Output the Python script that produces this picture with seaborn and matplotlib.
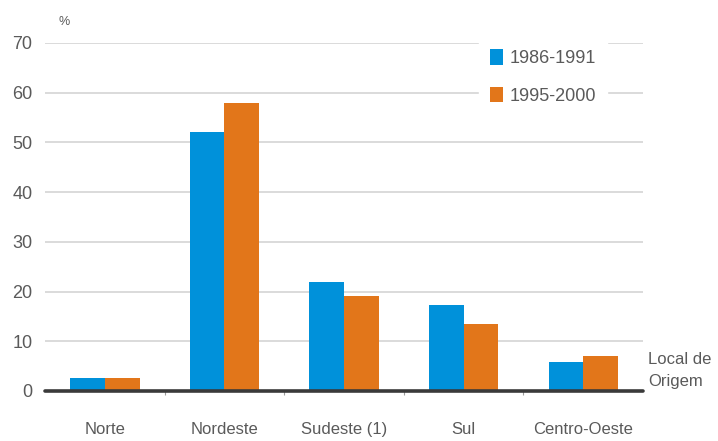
import matplotlib
matplotlib.use("Agg")
import matplotlib.pyplot as plt
import seaborn as sns
import pandas as pd

regioes = ["Norte", "Nordeste", "Sudeste (1)", "Sul", "Centro-Oeste"]
periodos = ["1986-1991", "1995-2000"]
valores_1986_1991 = [2.6, 52.1, 21.9, 17.3, 5.8]
valores_1995_2000 = [2.6, 58.0, 19.1, 13.5, 7.0]
y_ticks = [0, 10, 20, 30, 40, 50, 60, 70]

cores = ["#0091DA", "#E2761A"]
texto = "#5a5a5a"

sns.set_theme(style="white")
plt.rcParams["font.family"] = ["Liberation Sans", "DejaVu Sans"]

df = pd.DataFrame({
    "Região": regioes * 2,
    "Período": [periodos[0]] * len(regioes) + [periodos[1]] * len(regioes),
    "Valor": valores_1986_1991 + valores_1995_2000,
})

fig = plt.figure(figsize=(7.18, 4.41), dpi=100)
ax = fig.add_axes([0.0627, 0.1134, 0.8329, 0.7891])

sns.barplot(data=df, x="Região", y="Valor", hue="Período", order=regioes,
            hue_order=periodos, palette=cores, width=0.58, gap=0,
            saturation=1, linewidth=0, edgecolor="none", ax=ax, zorder=3)

ax.set_xlim(-0.5, len(regioes) - 0.5)
ax.set_ylim(0, 70)
ax.set_yticks(y_ticks)
ax.set_yticklabels([str(v) for v in y_ticks])
ax.set_xlabel("")
ax.set_ylabel("")

for v in y_ticks[1:]:
    ax.axhline(v, color="#dadada", lw=1.4, zorder=1)
ax.axhline(0, color="#3a3a3a", lw=2.6, zorder=4, clip_on=False)

for s in ax.spines.values():
    s.set_visible(False)

ax.tick_params(axis="y", length=0, pad=9, labelsize=13, labelcolor=texto)
ax.tick_params(axis="x", length=0, pad=22, labelsize=12, labelcolor=texto)
ax.set_xticks([i + 0.5 for i in range(len(regioes) - 1)], minor=True)
ax.tick_params(axis="x", which="minor", bottom=True, length=3, width=0.8,
               color="#9a9a9a", direction="out")

ax.text(0.022, 1.06, "%", transform=ax.transAxes, fontsize=9,
        color=texto, ha="left", va="center")
ax.text(1.008, 0.058, "Local de\nOrigem", transform=ax.transAxes, fontsize=12,
        color=texto, ha="left", va="center", linespacing=1.6)

leg = ax.legend(loc="upper left", bbox_to_anchor=(0.726, 1.014), frameon=True,
                fontsize=13, handlelength=0.72, handleheight=0.95,
                handletextpad=0.35, labelspacing=1.1, borderpad=0.6,
                borderaxespad=0)
leg.get_frame().set_facecolor("white")
leg.get_frame().set_edgecolor("white")
leg.get_frame().set_alpha(1)
leg.set_zorder(5)
for t in leg.get_texts():
    t.set_color(texto)

fig.savefig("out.png", dpi=100, facecolor="white")
